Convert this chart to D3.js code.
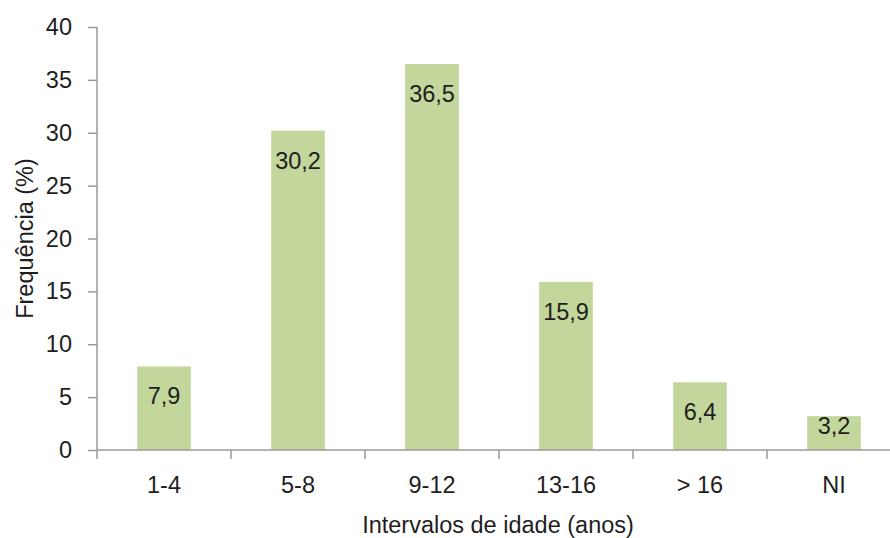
<!DOCTYPE html>
<html><head><meta charset="utf-8">
<script src="https://cdn.jsdelivr.net/npm/d3@7"></script>
<style>body{margin:0;background:#fff}</style>
</head><body>
<svg id="chart" width="890" height="538"></svg>
<script>
const categories = ["1-4", "5-8", "9-12", "13-16", "> 16", "NI"];
const values = [7.9, 30.2, 36.5, 15.9, 6.4, 3.2];
const labels = ["7,9", "30,2", "36,5", "15,9", "6,4", "3,2"];
const yTicks = [0, 5, 10, 15, 20, 25, 30, 35, 40];

const font = "'Liberation Sans', Arial, sans-serif";
const fs = 23.5;
const svg = d3.select("#chart");
const mLeft = 97, mTop = 27, mBottom = 450, mRight = 901;
const x = d3.scaleBand().domain(categories).range([mLeft, mRight]).paddingInner(0.6).paddingOuter(0.3);
const xb = d3.scaleBand().domain(categories).range([mLeft, mRight]);
const y = d3.scaleLinear().domain([0, 40]).range([mBottom, mTop]);
const axisColor = "#9a9a9a";
const txtColor = "#1e1e1e";

// bars
svg.selectAll("rect.bar").data(values).enter().append("rect")
  .attr("class", "bar")
  .attr("x", (d, i) => x(categories[i]))
  .attr("width", x.bandwidth())
  .attr("y", d => y(d))
  .attr("height", d => mBottom - y(d))
  .attr("fill", "#c3d69b");

// labels
svg.selectAll("text.lbl").data(values).enter().append("text")
  .attr("class", "lbl")
  .attr("x", (d, i) => x(categories[i]) + x.bandwidth() / 2)
  .attr("y", d => Math.min(y(d) + 30, mBottom - 24) + 8)
  .attr("text-anchor", "middle")
  .attr("font-family", font).attr("font-size", fs).attr("fill", txtColor)
  .text((d, i) => labels[i]);

// y axis
const yAxis = svg.append("g").attr("transform", `translate(${mLeft},0)`)
  .call(d3.axisLeft(y).tickValues(yTicks).tickSize(9).tickPadding(16).tickFormat(d3.format("d")));
yAxis.selectAll("path, line").attr("stroke", axisColor).attr("stroke-width", 1.5);
yAxis.select("path").attr("d", `M0,${mTop}V${mBottom}`);
yAxis.selectAll("text").attr("font-family", font).attr("font-size", fs).attr("fill", txtColor);

// x axis
const xAxis = svg.append("g").attr("transform", `translate(0,${mBottom})`)
  .call(d3.axisBottom(xb).tickSize(0).tickPadding(26));
xAxis.select("path").attr("d", `M${mLeft},0H${mRight}`).attr("stroke", axisColor).attr("stroke-width", 1.5);
xAxis.selectAll("text").attr("font-family", font).attr("font-size", fs).attr("fill", txtColor);
// boundary ticks
const bounds = categories.map(c => xb(c)).concat([mRight]);
svg.append("g").selectAll("line").data(bounds).enter().append("line")
  .attr("x1", d => d).attr("x2", d => d)
  .attr("y1", mBottom).attr("y2", mBottom + 9)
  .attr("stroke", axisColor).attr("stroke-width", 1.5);

// axis titles
svg.append("text")
  .attr("x", 498).attr("y", 533)
  .attr("text-anchor", "middle")
  .attr("font-family", font).attr("font-size", fs).attr("fill", txtColor)
  .text("Intervalos de idade (anos)");
svg.append("text")
  .attr("transform", `translate(33,${(mTop + mBottom) / 2}) rotate(-90)`)
  .attr("text-anchor", "middle")
  .attr("font-family", font).attr("font-size", fs).attr("fill", txtColor)
  .text("Frequência (%)");
</script>
</body></html>
